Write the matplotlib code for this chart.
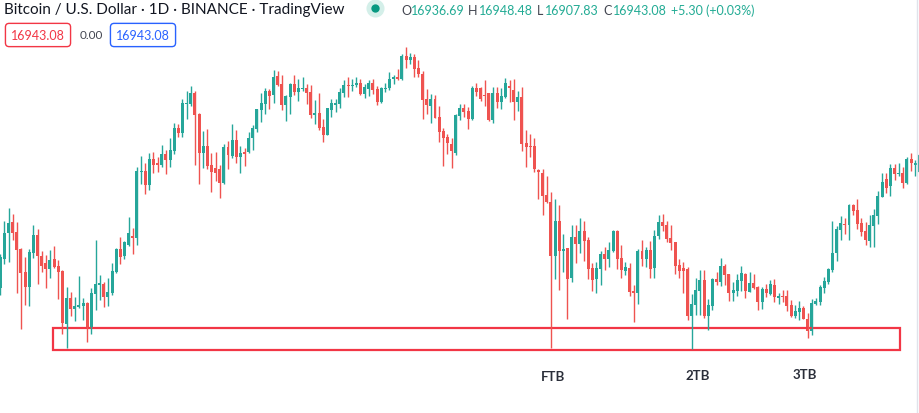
import numpy as np
import matplotlib.pyplot as plt
from matplotlib.patches import Rectangle
from matplotlib.lines import Line2D

plt.rcParams['font.family'] = ['Lato', 'DejaVu Sans']

# daily BTCUSD candles (prices)
opens = [15690, 15980, 16240, 16350, 16250, 16080, 15850, 15700, 16040, 16220,
         16010, 15940, 15880, 15980, 15910, 15860, 15330, 15590, 15480, 15500,
         15510, 15540, 15290, 15630, 15720, 15730, 15600, 15640, 15850, 16080,
         16010, 16120, 16210, 16190, 16850, 16860, 16720, 16980, 16940, 16920,
         17030, 16970, 17060, 17290, 17240, 17530, 17530, 17640, 17430, 17040,
         17110, 16920, 16890, 16880, 16740, 17100, 17010, 17170, 17000, 17050,
         17050, 17190, 17280, 17470, 17530, 17660, 17620, 17810, 17730, 17520,
         17600, 17730, 17650, 17680, 17690, 17650, 17420, 17440, 17300, 17220,
         17470, 17520, 17530, 17640, 17720, 17710, 17720, 17740, 17630, 17680,
         17740, 17680, 17550, 17680, 17690, 17780, 17800, 17780, 18010, 17970,
         18000, 17890, 17830, 17580, 17510, 17580, 17400, 17260, 17200, 17130,
         17040, 17410, 17490, 17460, 17380, 17690, 17690, 17620, 17640, 17370,
         17640, 17550, 17600, 17710, 17670, 17550, 17600, 17140, 17110, 17110,
         16870, 16840, 16620, 16550, 16010, 16360, 16060, 16090, 15790, 16200,
         16130, 16260, 16170, 15890, 15780, 15880, 16030, 15980, 16060, 16260,
         15990, 15860, 15890, 15660, 15640, 16060, 15980, 16070, 15890, 16210,
         16350, 16320, 16190, 16150, 15920, 15890, 15880, 15410, 15520, 15660,
         15770, 15410, 15510, 15780, 15750, 15910, 15830, 15640, 15660, 15760,
         15830, 15650, 15740, 15700, 15550, 15680, 15630, 15720, 15590, 15610,
         15610, 15520, 15410, 15450, 15490, 15380, 15260, 15530, 15550, 15690,
         15750, 15870, 16040, 16270, 16330, 16320, 16520, 16470, 16340, 16260,
         16160, 16310, 16410, 16600, 16780, 16710, 16890, 16830, 16840, 16740,
         16980, 16920]
highs = [16030, 16360, 16490, 16430, 16350, 16090, 16000, 16080, 16320, 16280,
         16060, 16020, 16070, 16110, 15970, 15870, 15700, 15650, 15600, 15810,
         15590, 15550, 15690, 16170, 15820, 15750, 15790, 15940, 16090, 16200,
         16160, 16400, 16290, 16900, 17010, 16940, 17040, 17050, 17000, 17120,
         17070, 17190, 17340, 17330, 17580, 17660, 17710, 17660, 17440, 17260,
         17280, 17040, 17050, 16920, 17130, 17160, 17330, 17270, 17110, 17090,
         17250, 17320, 17480, 17640, 17690, 17680, 17870, 17860, 17820, 17620,
         17740, 17820, 17780, 17800, 17730, 17720, 17570, 17640, 17380, 17490,
         17580, 17580, 17690, 17770, 17800, 17780, 17800, 17780, 17730, 17770,
         17780, 17710, 17700, 17740, 17850, 17820, 17880, 18030, 18100, 18040,
         18030, 17970, 17860, 17680, 17630, 17620, 17510, 17290, 17230, 17190,
         17430, 17530, 17530, 17500, 17710, 17740, 17700, 17770, 17640, 17700,
         17700, 17690, 17790, 17770, 17780, 17660, 17700, 17270, 17230, 17190,
         16880, 16880, 16810, 16650, 16580, 16520, 16230, 16090, 16320, 16320,
         16390, 16360, 16200, 15940, 15950, 16060, 16100, 16150, 16270, 16270,
         16120, 15950, 15940, 15720, 16080, 16170, 16100, 16160, 16270, 16420,
         16430, 16360, 16320, 16150, 15980, 15950, 15900, 15630, 15790, 15870,
         15870, 15580, 15790, 15850, 15990, 15930, 15830, 15750, 15830, 15910,
         15840, 15850, 15830, 15710, 15700, 15730, 15770, 15780, 15640, 15670,
         15670, 15570, 15520, 15560, 15510, 15440, 15580, 15590, 15720, 15800,
         15890, 16360, 16310, 16410, 16390, 16530, 16530, 16580, 16390, 16350,
         16420, 16480, 16660, 16840, 16840, 16930, 16930, 16940, 16900, 17000,
         17040, 16970]
lows = [15620, 15930, 15950, 16170, 15640, 15280, 15520, 15510, 15990, 15730,
        15850, 15690, 15790, 15890, 15580, 15230, 15090, 15410, 15360, 15490,
        15370, 15150, 15230, 15470, 15570, 15500, 15510, 15620, 15840, 15930,
        15980, 16110, 16030, 16120, 16730, 16630, 16670, 16840, 16850, 16900,
        16830, 16900, 17030, 17200, 17200, 17380, 17510, 16920, 16730, 16890,
        16880, 16650, 16760, 16590, 16730, 16880, 16990, 16940, 16840, 16910,
        17040, 17070, 17250, 17350, 17430, 17480, 17540, 17710, 17470, 17360,
        17430, 17620, 17560, 17660, 17530, 17390, 17330, 17270, 17150, 17220,
        17400, 17450, 17490, 17600, 17600, 17660, 17700, 17620, 17590, 17610,
        17630, 17520, 17540, 17650, 17670, 17730, 17770, 17770, 17890, 17930,
        17800, 17800, 17380, 17430, 17340, 17390, 17150, 16910, 17030, 16890,
        17020, 17370, 17400, 17280, 17370, 17610, 17560, 17510, 17360, 17340,
        17490, 17480, 17590, 17550, 17370, 17460, 17060, 16900, 17000, 16850,
        16580, 16420, 16540, 15090, 15780, 15670, 15850, 15380, 15750, 15940,
        16040, 15960, 15780, 15660, 15640, 15720, 15870, 15900, 16050, 15880,
        15790, 15820, 15610, 15350, 15530, 15910, 15900, 15790, 15790, 16180,
        16260, 16150, 16070, 15830, 15790, 15640, 15370, 15080, 15420, 15420,
        15390, 15270, 15470, 15720, 15710, 15720, 15560, 15560, 15610, 15660,
        15590, 15650, 15680, 15470, 15480, 15600, 15620, 15550, 15530, 15550,
        15460, 15400, 15390, 15370, 15380, 15190, 15220, 15520, 15520, 15640,
        15730, 15850, 15960, 16170, 16230, 16170, 16420, 16280, 16210, 16120,
        16100, 16100, 16330, 16600, 16640, 16610, 16770, 16810, 16690, 16730,
        16860, 16810]
closes = [16000, 16240, 16340, 16240, 16070, 15840, 15700, 16050, 16220, 16010,
          15910, 15880, 15970, 15900, 15850, 15340, 15590, 15480, 15510, 15520,
          15540, 15290, 15640, 15730, 15740, 15600, 15650, 15860, 16080, 16000,
          16150, 16240, 16190, 16860, 16860, 16720, 16980, 16920, 16920, 17030,
          16970, 17070, 17290, 17240, 17540, 17540, 17640, 17420, 17040, 17110,
          16910, 16850, 16840, 16740, 17100, 17020, 17170, 17000, 17040, 17030,
          17190, 17290, 17480, 17540, 17660, 17610, 17800, 17720, 17520, 17610,
          17730, 17650, 17690, 17690, 17640, 17420, 17440, 17290, 17220, 17490,
          17540, 17540, 17650, 17720, 17710, 17720, 17740, 17630, 17700, 17740,
          17670, 17550, 17690, 17690, 17780, 17800, 17780, 18010, 17970, 18000,
          17880, 17830, 17570, 17520, 17580, 17390, 17250, 17190, 17140, 17060,
          17420, 17490, 17450, 17380, 17690, 17650, 17580, 17610, 17370, 17640,
          17550, 17610, 17740, 17690, 17550, 17600, 17130, 17100, 17100, 16880,
          16850, 16610, 16550, 16010, 16360, 16060, 16080, 15780, 16200, 16130,
          16260, 16160, 15880, 15770, 15890, 16030, 15980, 16070, 16260, 15980,
          15870, 15900, 15650, 15640, 16060, 15980, 16070, 15880, 16210, 16350,
          16310, 16180, 16140, 15910, 15860, 15860, 15410, 15530, 15670, 15770,
          15410, 15520, 15780, 15750, 15910, 15820, 15640, 15670, 15770, 15840,
          15660, 15740, 15690, 15550, 15680, 15640, 15730, 15600, 15610, 15600,
          15510, 15410, 15460, 15490, 15380, 15260, 15540, 15560, 15700, 15760,
          15880, 16040, 16280, 16340, 16320, 16520, 16460, 16330, 16250, 16170,
          16320, 16420, 16610, 16750, 16690, 16890, 16830, 16840, 16740, 16980,
          16940, 16940]

# demand zone and touch labels
zone_low, zone_high = 15070, 15290
zone_start, zone_end = 12.7, 217.3
touch_labels = ['FTB', '2TB', '3TB']
touch_pos = [133.4, 168.5, 194.4]
touch_price = [14805, 14820, 14833]

UP = '#26a69a'
DOWN = '#ef5350'

o = np.array(opens, dtype=float)
h = np.array(highs, dtype=float)
l = np.array(lows, dtype=float)
c = np.array(closes, dtype=float)
x = np.arange(len(o))
colors = np.where(c >= o, UP, DOWN)

fig = plt.figure(figsize=(9.2, 4.14), dpi=100)
ax = fig.add_axes([0, 0, 1, 1])
ax.axis('off')
ax.set_xlim(-0.07, 222.15)
ax.set_ylim(14440, 18580)

ax.vlines(x, l, h, colors=colors, linewidth=1.0)
body = np.maximum(np.abs(c - o), 8)
ax.bar(x, body, bottom=np.minimum(o, c), width=0.72, color=colors, linewidth=0)

ax.add_patch(Rectangle((zone_start, zone_low), zone_end - zone_start,
                       zone_high - zone_low, fill=False,
                       edgecolor='#f23645', linewidth=1.6))

for lab, px, py in zip(touch_labels, touch_pos, touch_price):
    ax.text(px, py, lab, ha='center', va='center', fontsize=9.5,
            fontweight='bold', color='#2a2e39')

# price scale border on the right
fig.add_artist(Line2D([917.5 / 920] * 2, [0, 1], color='#e0e3eb', lw=1))
fig.add_artist(Rectangle((918 / 920, 1 - 172 / 414), 6 / 920, 16 / 414,
                         fill=False, edgecolor=UP, lw=1))


def fx(px):
    return px / 920


def fy(py):
    return 1 - py / 414


# legend header
fig.text(fx(4), fy(10), 'Bitcoin / U.S. Dollar · 1D · BINANCE · TradingView',
         fontsize=11, color='#131722', va='center', ha='left')
ax.plot([fx(375)], [fy(9)], 'o', transform=fig.transFigure, markersize=13,
        color='#d4efe9', markeredgewidth=0)
ax.plot([fx(375)], [fy(9)], 'o', transform=fig.transFigure, markersize=6,
        color='#089981', markeredgewidth=0)

ohlc = [('O', 401, '16936.69', 411), ('H', 468, '16948.48', 479),
        ('L', 537, '16907.83', 545), ('C', 603, '16943.08', 613)]
for key, kx, val, vx in ohlc:
    fig.text(fx(kx), fy(11), key, fontsize=9, color='#434651', va='center')
    fig.text(fx(vx), fy(11), val, fontsize=9, color='#22ab94', va='center')
fig.text(fx(671), fy(11), '+5.30 (+0.03%)', fontsize=9, color='#22ab94',
         va='center')

fig.text(fx(38), fy(36), '16943.08', fontsize=9, color='#f23645', ha='center',
         va='center', bbox=dict(boxstyle='round,pad=0.45,rounding_size=0.3',
                                fc='white', ec='#f23645', lw=1))
fig.text(fx(80), fy(36), '0.00', fontsize=8.5, color='#434651', va='center')
fig.text(fx(143), fy(36), '16943.08', fontsize=9, color='#2962ff', ha='center',
         va='center', bbox=dict(boxstyle='round,pad=0.45,rounding_size=0.3',
                                fc='white', ec='#2962ff', lw=1))

fig.savefig('out.png', dpi=100)
